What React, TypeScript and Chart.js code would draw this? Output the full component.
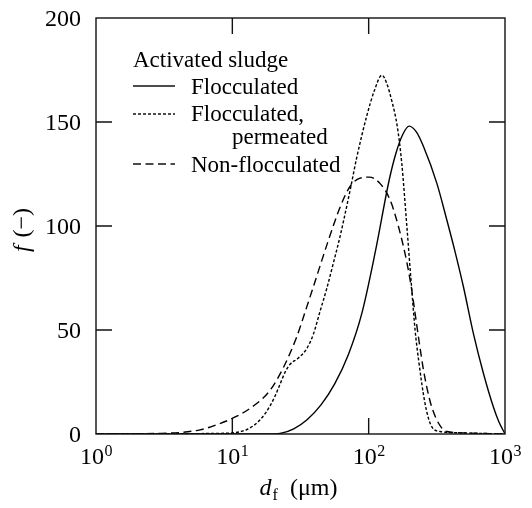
import React, { useEffect, useRef } from "react";
import { Chart, registerables } from "chart.js";

Chart.register(...registerables);

// ---- Data ----
const flocX = [1, 18, 22.4, 28.2, 35.5, 44.7, 56.2, 70.8, 89.1, 112.2, 141.3, 158.5, 177.8, 198, 225, 252, 316, 374, 430, 495, 586, 695, 822, 900, 1000];
const flocY = [0, 0, 0.3, 2.5, 7, 14, 24, 38, 58, 88, 122, 135, 144, 148, 145, 138.3, 120.6, 103, 87.7, 70.9, 48.4, 29.1, 13, 6, 0];

const permX = [1, 8, 11.4, 14.3, 17.5, 20.5, 22.4, 24.5, 26.5, 30.5, 35.1, 39.3, 44, 49.3, 55, 61.7, 65.2, 73, 81.8, 96.9, 110, 125, 135, 148, 162, 175, 190, 205, 219, 232, 259, 290, 334, 500, 1000];
const permY = [0, 0.3, 1.1, 4, 10, 18, 24, 30, 33.5, 36.5, 41, 48, 59, 70, 82, 95, 102, 117, 133, 153, 165, 172.5, 169, 160, 148, 130, 101, 73, 50, 36, 14.7, 3.5, 1.2, 0.5, 0];

const nonX = [1, 3, 5.8, 8.1, 10.6, 14.3, 18.9, 23.7, 29.7, 35.1, 39.3, 50, 61.7, 73, 86.5, 101, 121, 143.6, 165, 190, 205, 219, 235, 252, 270, 290, 334, 374, 500, 1000];
const nonY = [0, 0.3, 2, 5, 8.3, 13.5, 21, 32, 46.8, 61, 70.8, 92, 109, 119, 123, 123.5, 120.5, 112.5, 100, 83, 71, 58, 44, 31, 21, 13, 4, 1.2, 0.5, 0];

const legendTitle = "Activated sludge";
const seriesLabels = [["Flocculated"], ["Flocculated,", "permeated"], ["Non-flocculated"]];
const seriesDashes: number[][] = [[], [3, 2], [8, 4.5]];

const xTickExponents = [0, 1, 2, 3];
const yTicks = [0, 50, 100, 150, 200];

const FONT = '"Liberation Serif", "Times New Roman", serif';

const framePlugin = {
  id: "frameAndText",
  afterDraw(chart: any) {
    const { ctx, chartArea, scales } = chart;
    const { left, right, top, bottom } = chartArea;
    const xs = scales.x;
    const ys = scales.y;
    const tl = 16;
    ctx.save();
    ctx.strokeStyle = "#111";
    ctx.fillStyle = "#000";
    ctx.lineWidth = 1.4;
    ctx.setLineDash([]);
    ctx.strokeRect(left, top, right - left, bottom - top);

    // x ticks + labels
    xTickExponents.forEach((e) => {
      const v = Math.pow(10, e);
      const px = xs.getPixelForValue(v);
      if (px > left + 1 && px < right - 1) {
        ctx.beginPath();
        ctx.moveTo(px, bottom);
        ctx.lineTo(px, bottom - tl);
        ctx.moveTo(px, top);
        ctx.lineTo(px, top + tl);
        ctx.stroke();
      }
      ctx.font = `24px ${FONT}`;
      const w10 = ctx.measureText("10").width;
      ctx.font = `16px ${FONT}`;
      const ws = ctx.measureText(String(e)).width;
      const start = px - (w10 + ws) / 2;
      ctx.textAlign = "left";
      ctx.textBaseline = "alphabetic";
      ctx.font = `24px ${FONT}`;
      ctx.fillText("10", start, bottom + 30);
      ctx.font = `16px ${FONT}`;
      ctx.fillText(String(e), start + w10 + 0.5, bottom + 22);
    });

    // y ticks + labels
    yTicks.forEach((v) => {
      const py = ys.getPixelForValue(v);
      if (py > top + 1 && py < bottom - 1) {
        ctx.beginPath();
        ctx.moveTo(left, py);
        ctx.lineTo(left + tl, py);
        ctx.moveTo(right, py);
        ctx.lineTo(right - tl, py);
        ctx.stroke();
      }
      ctx.font = `24px ${FONT}`;
      ctx.textAlign = "right";
      ctx.textBaseline = "alphabetic";
      ctx.fillText(String(v), left - 15, py + 8);
    });

    // x title: d_f (μm)
    {
      ctx.textAlign = "left";
      ctx.font = `italic 24px ${FONT}`;
      const wd = ctx.measureText("d").width;
      ctx.font = `16px ${FONT}`;
      const wf = ctx.measureText("f").width;
      ctx.font = `24px ${FONT}`;
      const rest = "  (\u03bcm)";
      const wr = ctx.measureText(rest).width;
      const total = wd + wf + 1 + wr;
      const cx = (left + right) / 2 - 2;
      let x0 = cx - total / 2;
      const base = bottom + 61;
      ctx.font = `italic 24px ${FONT}`;
      ctx.fillText("d", x0, base);
      x0 += wd + 1;
      ctx.font = `16px ${FONT}`;
      ctx.fillText("f", x0, base + 5);
      x0 += wf;
      ctx.font = `24px ${FONT}`;
      ctx.fillText(rest, x0, base);
    }

    // y title: f (−)
    {
      ctx.save();
      const cy = (top + bottom) / 2 + 5;
      ctx.translate(left - 67, cy);
      ctx.rotate(-Math.PI / 2);
      ctx.font = `italic 24px ${FONT}`;
      const wf = ctx.measureText("f").width;
      ctx.font = `24px ${FONT}`;
      const rest = " (\u2212)";
      const wr = ctx.measureText(rest).width;
      const total = wf + wr;
      ctx.textAlign = "left";
      ctx.textBaseline = "alphabetic";
      ctx.font = `italic 24px ${FONT}`;
      ctx.fillText("f", -total / 2, 0);
      ctx.font = `24px ${FONT}`;
      ctx.fillText(rest, -total / 2 + wf + 2, 0);
      ctx.restore();
    }

    // legend
    {
      const lx = left + 37;
      ctx.font = `23px ${FONT}`;
      ctx.textAlign = "left";
      ctx.fillText(legendTitle, lx, top + 49);
      const lineY = [top + 68, top + 96, top + 146];
      const textY = [top + 76, top + 103, top + 154];
      ctx.lineWidth = 1.3;
      seriesLabels.forEach((lines, i) => {
        ctx.setLineDash(seriesDashes[i]);
        ctx.beginPath();
        ctx.moveTo(lx, lineY[i]);
        ctx.lineTo(lx + 42, lineY[i]);
        ctx.stroke();
        ctx.setLineDash([]);
        ctx.fillText(lines[0], lx + 58, textY[i]);
        if (lines[1]) ctx.fillText(lines[1], lx + 99, textY[i] + 23);
      });
    }
    ctx.restore();
  },
};

export default function App() {
  const ref = useRef<HTMLCanvasElement | null>(null);
  useEffect(() => {
    if (!ref.current) return;
    const mk = (xs: number[], ys: number[]) => xs.map((x, i) => ({ x, y: ys[i] }));
    const chart = new Chart(ref.current, {
      type: "line",
      data: {
        datasets: [
          { label: seriesLabels[0].join(" "), data: mk(flocX, flocY), borderDash: seriesDashes[0] },
          { label: seriesLabels[1].join(" "), data: mk(permX, permY), borderDash: seriesDashes[1] },
          { label: seriesLabels[2].join(" "), data: mk(nonX, nonY), borderDash: seriesDashes[2] },
        ].map((d) => ({
          ...d,
          borderColor: "#000",
          borderWidth: 1.4,
          pointRadius: 0,
          fill: false,
          cubicInterpolationMode: "monotone" as const,
        })),
      },
      options: {
        animation: false,
        responsive: false,
        devicePixelRatio: 1,
        layout: { padding: { left: 96, right: 27, top: 18, bottom: 74 } },
        scales: {
          x: { type: "logarithmic", min: 1, max: 1000, display: false },
          y: { type: "linear", min: 0, max: 200, display: false },
        },
        plugins: { legend: { display: false }, tooltip: { enabled: false } },
      },
      plugins: [framePlugin],
    });
    return () => chart.destroy();
  }, []);
  return (
    <div style={{ position: "absolute", left: 0, top: 0, width: 532, height: 508, background: "#fff" }}>
      <canvas ref={ref} width={532} height={508} style={{ display: "block" }} />
    </div>
  );
}
